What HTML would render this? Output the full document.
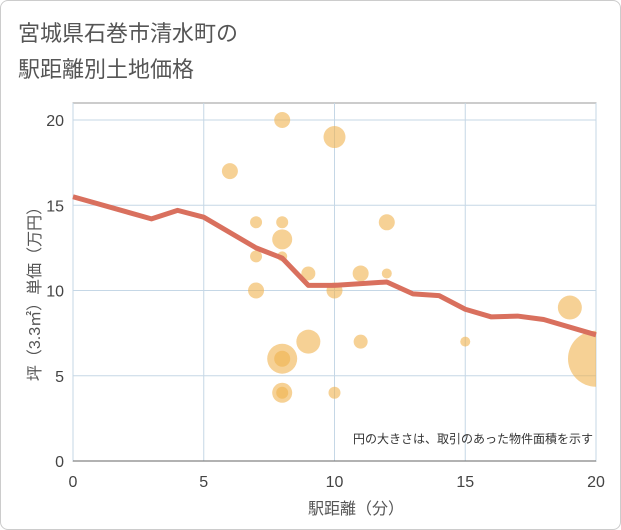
<!DOCTYPE html>
<html><head><meta charset="utf-8"><style>
body{margin:0;background:#fff;}
#c{position:absolute;left:0;top:0;width:619px;height:528px;border:1px solid #ccc;border-radius:8px;background:#fff;}
text{font-family:"Liberation Sans","Noto Sans CJK JP",sans-serif;}
</style></head><body>
<div id="c"></div>
<svg id="s" width="621" height="530" style="position:absolute;left:0;top:0">
<text x="18" y="41" font-size="22" fill="#555">宮城県石巻市清水町の</text>
<text x="18" y="77" font-size="22" fill="#555">駅距離別土地価格</text>
<g id="grid"></g><g id="bub"></g><g id="ln"></g><g id="ax"></g>
<text x="593" y="443" font-size="12" fill="#333" text-anchor="end">円の大きさは、取引のあった物件面積を示す</text>
<text x="356" y="514" font-size="16" fill="#555" text-anchor="middle">駅距離（分）</text>
<text transform="translate(40,290) rotate(-90)" font-size="16" fill="#555" text-anchor="middle">坪（3.3㎡）単価（万円）</text>
</svg>
<script>
const xTicks=[0,5,10,15,20];
const yTicks=[0,5,10,15,20];
const lineX=[0,3,4,5,7,8,9,10,12,13,14,15,16,17,18,20];
const lineY=[15.5,14.2,14.7,14.3,12.5,11.9,10.3,10.3,10.5,9.8,9.7,8.9,8.45,8.5,8.3,7.4];
const bubX=[6,7,7,7,8,8,8,8,8,8,8,8,9,9,10,10,10,11,11,12,12,15,19,20];
const bubY=[17,14,12,10,20,14,13,12,6,6,4,4,11,7,19,10,4,11,7,14,11,7,9,6];
const bubR=[8,6,6,8,8,6,10,5,15,8,10,6,7,12,11,8,6,8,7,8,5,5,12,28];
const L=73,R=596,T=103,B=461;
const sx=v=>L+v*(R-L)/20, sy=v=>B-v*(B-120)/20;
const NS="http://www.w3.org/2000/svg";
function mk(p,t,a){const e=document.createElementNS(NS,t);for(const k in a)e.setAttribute(k,a[k]);document.getElementById(p).appendChild(e);return e;}
let e=mk('grid','rect',{x:L,y:T,width:R-L,height:B-T,fill:'none',stroke:'#999'});


xTicks.forEach(v=>{let g=mk('grid','line',{x1:sx(v),x2:sx(v),y1:T,y2:B,stroke:'#c5d7e6'});


let t=mk('ax','text',{x:sx(v),y:487,'font-size':16,fill:'#444','text-anchor':'middle'});t.textContent=v;

});
yTicks.forEach(v=>{let g=mk('grid','line',{x1:L,x2:R,y1:sy(v),y2:sy(v),stroke:'#c5d7e6'});


let t=mk('ax','text',{x:64,y:sy(v)+6,'font-size':16,fill:'#444','text-anchor':'end'});t.textContent=v;

});
mk('ax','line',{x1:L,x2:R,y1:B,y2:B,stroke:'#666'});
bubX.forEach((x,i)=>{let c=mk('bub','circle',{cx:sx(x),cy:sy(bubY[i]),r:bubR[i],fill:'#f0b24f','fill-opacity':0.6});

});
document.getElementById('bub').setAttribute('clip-path','url(#cp)');
let d=mk('bub','defs',{});let cp=document.createElementNS(NS,'clipPath');cp.id='cp';d.appendChild(cp);
let cr=document.createElementNS(NS,'rect');cr.setAttribute('x',L);cr.setAttribute('y',T);cr.setAttribute('width',R-L);cr.setAttribute('height',B-T);cp.appendChild(cr);
let p=mk('ln','polyline',{points:lineX.map((x,i)=>sx(x)+','+sy(lineY[i])).join(' '),fill:'none',stroke:'#d9705e','stroke-width':5,'stroke-linejoin':'round'});


</script>
</body></html>
